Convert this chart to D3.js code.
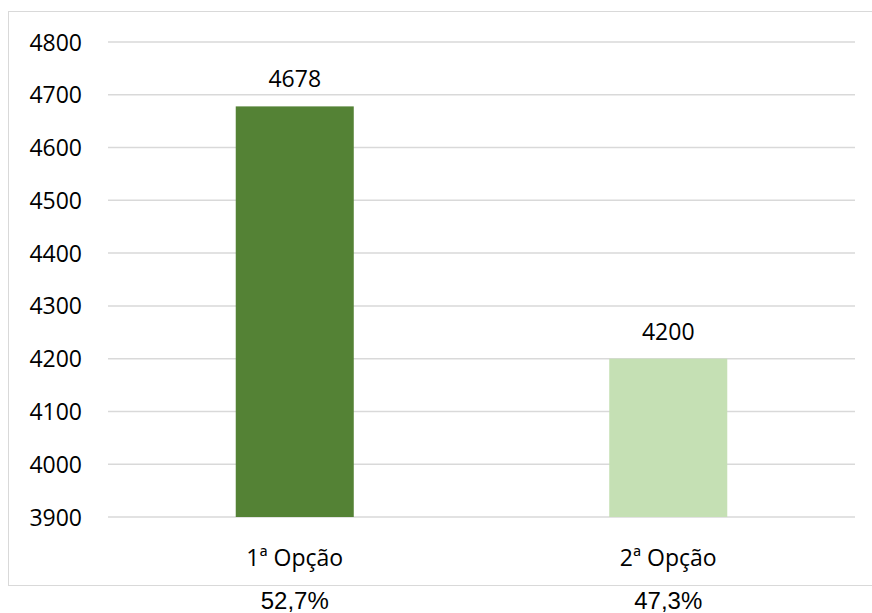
<!DOCTYPE html>
<html lang="pt">
<head>
    <meta charset="utf-8">
    <title>Opções</title>
    <script src="https://cdn.jsdelivr.net/npm/d3@7"></script>
    <style>
        body { margin: 0; background: #fff; }
        svg { display: block; }
        .tick text, .vlabel, .cat { font-family: 'Open Sans', sans-serif; fill: #000; }
        .pct { font-family: 'Liberation Sans', Arial, sans-serif; fill: #000; }
    </style>
</head>
<body>
<svg></svg>
<script>
    // data
    var categories = ["1ª Opção", "2ª Opção"];
    var values = [4678, 4200];
    var percents = ["52,7%", "47,3%"];
    var yTicks = [3900, 4000, 4100, 4200, 4300, 4400, 4500, 4600, 4700, 4800];
    var colors = ["#548235", "#c5e0b4"];

    var width = 872, height = 613;
    var plot = { left: 108, right: 855, top: 42, bottom: 517 };

    var svg = d3.select("svg").attr("width", width).attr("height", height);

    // chart frame
    svg.append("rect")
        .attr("x", 8.5).attr("y", 11.5)
        .attr("width", 880).attr("height", 574)
        .attr("fill", "none").attr("stroke", "#d9d9d9");

    var x = d3.scaleBand().domain(categories)
        .range([plot.left, plot.right])
        .paddingInner(0.684).paddingOuter(0.342);

    var y = d3.scaleLinear().domain([3900, 4800])
        .range([plot.bottom, plot.top]);

    // gridlines
    svg.append("g").selectAll("line")
        .data(yTicks).enter().append("line")
        .attr("x1", plot.left).attr("x2", plot.right)
        .attr("y1", function(d) { return y(d); })
        .attr("y2", function(d) { return y(d); })
        .attr("stroke", "#d9d9d9").attr("stroke-width", 1.5);

    // y axis labels
    var yAxis = d3.axisLeft(y).tickValues(yTicks).tickFormat(d3.format("d"))
        .tickSize(0).tickPadding(0);
    var ga = svg.append("g").attr("transform", "translate(82,0)").call(yAxis);
    ga.select(".domain").remove();
    ga.selectAll("text").style("font-size", "23px").attr("dy", "0.35em");

    // bars
    svg.append("g").selectAll("rect")
        .data(values).enter().append("rect")
        .attr("x", function(d, i) { return x(categories[i]); })
        .attr("width", x.bandwidth())
        .attr("y", function(d) { return y(d); })
        .attr("height", function(d) { return y(3900) - y(d); })
        .attr("fill", function(d, i) { return colors[i]; });

    // value labels
    svg.append("g").selectAll("text")
        .data(values).enter().append("text")
        .attr("class", "vlabel")
        .attr("x", function(d, i) { return x(categories[i]) + x.bandwidth() / 2; })
        .attr("y", function(d) { return y(d) - 19; })
        .attr("text-anchor", "middle")
        .style("font-size", "23px")
        .text(function(d) { return d; });

    // category labels
    svg.append("g").selectAll("text")
        .data(categories).enter().append("text")
        .attr("class", "cat")
        .attr("x", function(d) { return x(d) + x.bandwidth() / 2; })
        .attr("y", 566)
        .attr("text-anchor", "middle")
        .style("font-size", "23px")
        .text(function(d) { return d; });

    // percentages below the frame
    svg.append("g").selectAll("text")
        .data(percents).enter().append("text")
        .attr("class", "pct")
        .attr("x", function(d, i) { return x(categories[i]) + x.bandwidth() / 2; })
        .attr("y", 609)
        .attr("text-anchor", "middle")
        .style("font-size", "24px")
        .text(function(d) { return d; });
</script>
</body>
</html>
